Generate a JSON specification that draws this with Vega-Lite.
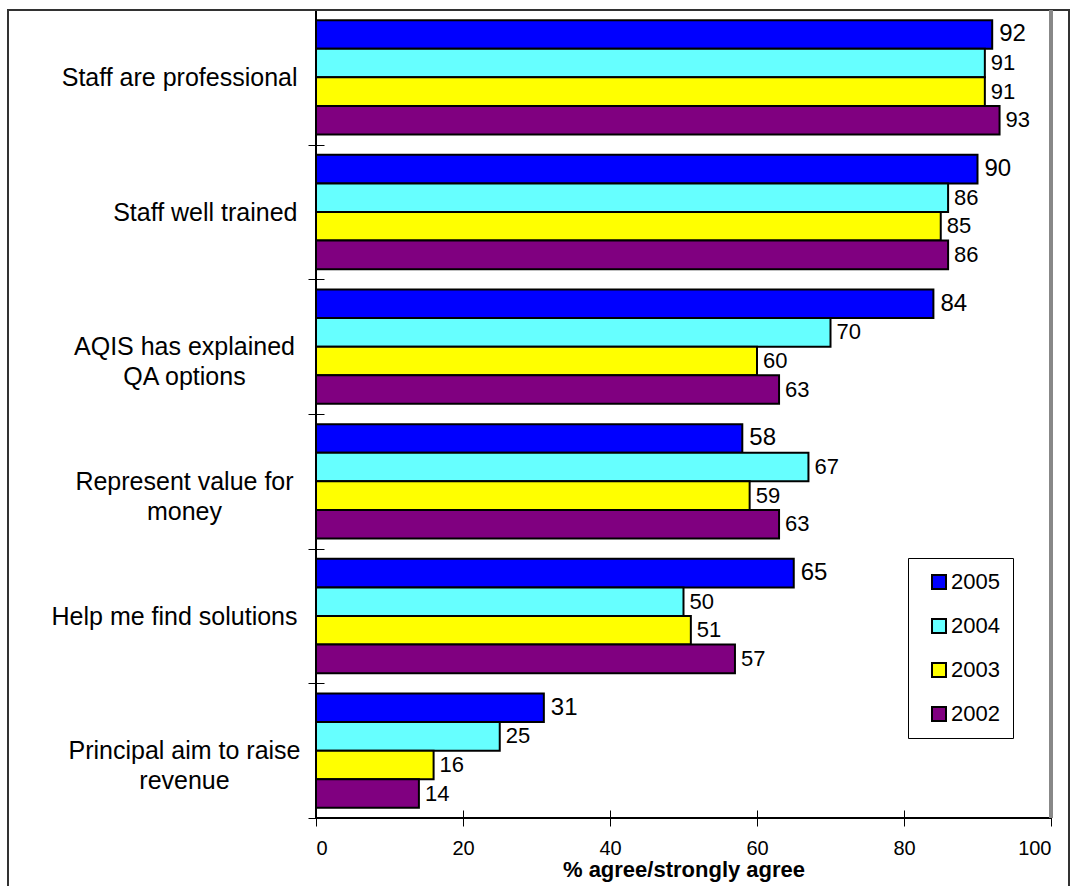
{
  "$schema": "https://vega.github.io/schema/vega-lite/v6.json",
  "width": 735,
  "height": 808,
  "autosize": {"type": "none"},
  "padding": {"left": 316, "top": 10, "right": 20, "bottom": 68},
  "background": "white",
  "config": {
    "font": "Liberation Sans",
    "view": {"stroke": "#000", "strokeWidth": 2},
    "axis": {
      "labelFont": "Liberation Sans",
      "titleFont": "Liberation Sans",
      "labelColor": "#000",
      "titleColor": "#000",
      "tickColor": "#000",
      "tickWidth": 1,
      "grid": false,
      "domain": false
    }
  },
  "data": {
    "values": [
      {"item": "Staff are professional", "year": "2005", "pct": 92},
      {"item": "Staff are professional", "year": "2004", "pct": 91},
      {"item": "Staff are professional", "year": "2003", "pct": 91},
      {"item": "Staff are professional", "year": "2002", "pct": 93},
      {"item": "Staff well trained", "year": "2005", "pct": 90},
      {"item": "Staff well trained", "year": "2004", "pct": 86},
      {"item": "Staff well trained", "year": "2003", "pct": 85},
      {"item": "Staff well trained", "year": "2002", "pct": 86},
      {"item": "AQIS has explained QA options", "year": "2005", "pct": 84},
      {"item": "AQIS has explained QA options", "year": "2004", "pct": 70},
      {"item": "AQIS has explained QA options", "year": "2003", "pct": 60},
      {"item": "AQIS has explained QA options", "year": "2002", "pct": 63},
      {"item": "Represent value for money", "year": "2005", "pct": 58},
      {"item": "Represent value for money", "year": "2004", "pct": 67},
      {"item": "Represent value for money", "year": "2003", "pct": 59},
      {"item": "Represent value for money", "year": "2002", "pct": 63},
      {"item": "Help me find solutions", "year": "2005", "pct": 65},
      {"item": "Help me find solutions", "year": "2004", "pct": 50},
      {"item": "Help me find solutions", "year": "2003", "pct": 51},
      {"item": "Help me find solutions", "year": "2002", "pct": 57},
      {"item": "Principal aim to raise revenue", "year": "2005", "pct": 31},
      {"item": "Principal aim to raise revenue", "year": "2004", "pct": 25},
      {"item": "Principal aim to raise revenue", "year": "2003", "pct": 16},
      {"item": "Principal aim to raise revenue", "year": "2002", "pct": 14}
    ]
  },
  "resolve": {"scale": {"y": "independent"}},
  "layer": [
    {
      "mark": {"type": "rect", "fillOpacity": 0, "stroke": "#333", "strokeWidth": 1.5, "clip": false},
      "encoding": {
        "x": {"datum": -41.9, "type": "quantitative", "scale": {"domain": [0, 100], "nice": false}},
        "x2": {"datum": 102.45},
        "y": {"datum": 1, "type": "quantitative", "scale": {"domain": [0, 1]}, "axis": null},
        "y2": {"datum": -0.1}
      }
    },
    {
      "layer": [
        {
          "mark": {"type": "bar", "stroke": "#000", "strokeWidth": 2},
          "encoding": {
            "y": {
              "field": "item",
              "type": "nominal",
              "sort": ["Staff are professional", "Staff well trained", "AQIS has explained QA options", "Represent value for money", "Help me find solutions", "Principal aim to raise revenue"],
              "scale": {"paddingInner": 0, "paddingOuter": 0},
              "title": null,
              "axis": {
                "orient": "left",
                "tickBand": "extent",
                "offset": -8,
                "tickSize": 16,
                "labelFontSize": 25,
                "labelLineHeight": 30,
                "labelAlign": {
                  "condition": {"test": "indexof(['AQIS has explained QA options', 'Represent value for money', 'Principal aim to raise revenue'], datum.value) >= 0", "value": "center"},
                  "value": "right"
                },
                "labelPadding": {
                  "condition": {"test": "indexof(['AQIS has explained QA options', 'Represent value for money', 'Principal aim to raise revenue'], datum.value) >= 0", "value": 124},
                  "value": 11
                },
                "labelBaseline": "middle",
                "labelLimit": 500,
                "labelExpr": "datum.value === 'AQIS has explained QA options' ? ['AQIS has explained', 'QA options'] : datum.value === 'Represent value for money' ? ['Represent value for', 'money'] : datum.value === 'Principal aim to raise revenue' ? ['Principal aim to raise', 'revenue'] : datum.label"
              }
            },
            "yOffset": {
              "field": "year",
              "type": "nominal",
              "sort": ["2005", "2004", "2003", "2002"],
              "scale": {"paddingInner": 0, "paddingOuter": 0.354}
            },
            "x": {
              "field": "pct",
              "type": "quantitative",
              "scale": {"domain": [0, 100], "nice": false},
              "title": "% agree/strongly agree",
              "axis": {
                "values": [0, 20, 40, 60, 80, 100],
                "offset": -8,
                "tickSize": 16,
                "labelFontSize": 20,
                "labelPadding": 12,
                "titleFontSize": 22,
                "titleFontWeight": "bold",
                "titlePadding": 1
              }
            },
            "color": {
              "field": "year",
              "type": "nominal",
              "scale": {"domain": ["2005", "2004", "2003", "2002"], "range": ["#0000FF", "#66FFFF", "#FFFF00", "#800080"]},
              "legend": {
                "orient": "none",
                "legendX": 592,
                "legendY": 548,
                "title": null,
                "fillColor": "white",
                "strokeColor": "#000",
                "padding": 13,
                "symbolType": "square",
                "symbolSize": 196,
                "symbolStrokeColor": "#000",
                "symbolStrokeWidth": 2,
                "symbolOffset": 7,
                "labelFont": "Liberation Sans",
                "labelFontSize": 22,
                "labelColor": "#000",
                "labelOffset": 1,
                "rowPadding": 22
              }
            }
          }
        },
        {
          "transform": [{"filter": "datum.year === '2005'"}],
          "mark": {"type": "text", "align": "left", "baseline": "middle", "dx": 7, "font": "Liberation Sans", "color": "#000", "fontSize": 24},
          "encoding": {
            "y": {
              "field": "item",
              "type": "nominal",
              "sort": ["Staff are professional", "Staff well trained", "AQIS has explained QA options", "Represent value for money", "Help me find solutions", "Principal aim to raise revenue"]
            },
            "yOffset": {
              "field": "year",
              "type": "nominal",
              "sort": ["2005", "2004", "2003", "2002"],
              "scale": {"paddingInner": 0, "paddingOuter": 0.354}
            },
            "x": {"field": "pct", "type": "quantitative"},
            "text": {"field": "pct", "type": "quantitative"}
          }
        },
        {
          "transform": [{"filter": "datum.year !== '2005'"}],
          "mark": {"type": "text", "align": "left", "baseline": "middle", "dx": 6, "font": "Liberation Sans", "color": "#000", "fontSize": 22},
          "encoding": {
            "y": {
              "field": "item",
              "type": "nominal",
              "sort": ["Staff are professional", "Staff well trained", "AQIS has explained QA options", "Represent value for money", "Help me find solutions", "Principal aim to raise revenue"]
            },
            "yOffset": {
              "field": "year",
              "type": "nominal",
              "sort": ["2005", "2004", "2003", "2002"],
              "scale": {"paddingInner": 0, "paddingOuter": 0.354}
            },
            "x": {"field": "pct", "type": "quantitative"},
            "text": {"field": "pct", "type": "quantitative"}
          }
        },
        {
          "mark": {"type": "rule", "color": "#888888", "strokeWidth": 2.5},
          "encoding": {"x": {"datum": 100}}
        }
      ]
    }
  ]
}
